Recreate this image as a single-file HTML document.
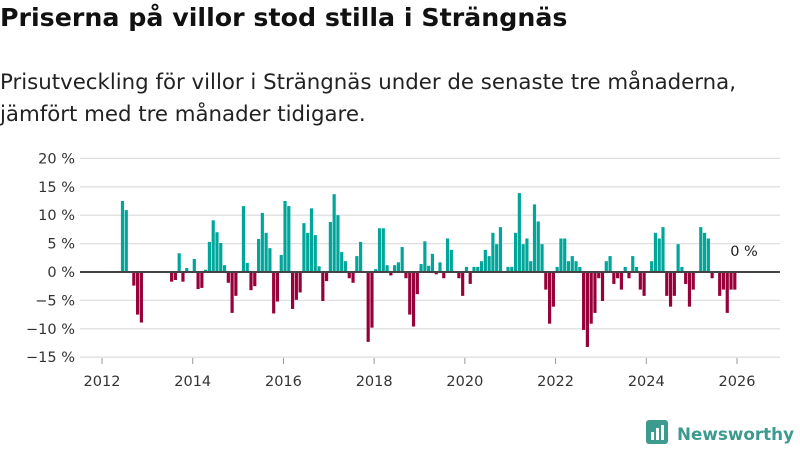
<!DOCTYPE html>
<html><head><meta charset="utf-8">
<style>
body{margin:0;width:800px;height:450px;background:#fff;font-family:"DejaVu Sans",sans-serif;overflow:hidden;position:relative}
h1{position:absolute;left:0;top:3px;margin:0;font-size:25.3px;font-weight:bold;color:#111;white-space:nowrap}
.sub{position:absolute;left:0;top:67px;margin:0;font-size:21.3px;line-height:32px;color:#222;white-space:nowrap}
svg{position:absolute;left:0;top:0}
</style></head><body>
<h1>Priserna på villor stod stilla i Strängnäs</h1>
<p class="sub">Prisutveckling för villor i Strängnäs under de senaste tre månaderna,<br>jämfört med tre månader tidigare.</p>
<svg id="chart" width="800" height="450"></svg>
<script>
const startYear = 2012;
const startMonth = 6;
const values = [12.5,10.9,0,-2.4,-7.5,-8.9,0,0,0,0,0,0,0,-1.7,-1.4,3.3,-1.7,0.7,0,2.3,-3,-2.8,0.4,5.3,9.1,7,5.1,1.2,-1.9,-7.2,-4.2,0,11.6,1.6,-3.2,-2.5,5.8,10.4,6.9,4.2,-7.3,-5.2,3,12.5,11.6,-6.5,-4.9,-3.6,8.6,6.9,11.2,6.5,1,-5.1,-1.6,8.8,13.7,10,3.5,1.9,-1.1,-1.9,2.8,5.3,0,-12.3,-9.8,0.5,7.7,7.7,1.2,-0.6,1.2,1.7,4.4,-1.1,-7.5,-9.6,-3.9,1.4,5.4,1.1,3.2,-0.4,1.7,-1.1,5.9,3.9,0,-1.1,-4.2,0.9,-2.1,0.9,0.9,1.9,3.9,2.8,6.9,4.9,7.9,0,0.9,0.9,6.9,13.9,4.9,5.9,1.9,11.9,8.9,4.9,-3.1,-9.1,-6.1,0.9,5.9,5.9,1.9,2.8,1.9,0.9,-10.2,-13.2,-9.1,-7.2,-1.1,-5.1,1.9,2.8,-2.1,-1.1,-3.1,0.9,-1.1,2.8,0.9,-3.1,-4.2,0,1.9,6.9,5.9,7.9,-4.2,-6.1,-4.2,4.9,0.9,-2.1,-6.1,-3.1,0,7.9,6.9,5.9,-1.1,0,-4.2,-3.1,-7.2,-3.1,-3.1];
const yTicks = [20,15,10,5,0,-5,-10,-15];
const xTicks = [2012,2014,2016,2018,2020,2022,2024,2026];
const lastLabel = "0 %";

const NS="http://www.w3.org/2000/svg";
const svg=document.getElementById('chart');
const x0=102, x1=737, yr0=2012, yr1=2026;
function xScale(t){return x0+(t-yr0)*(x1-x0)/(yr1-yr0);}
function yScale(v){return 272-v*5.68;}
function mk(tag,attrs){const e=document.createElementNS(NS,tag);for(const k in attrs)e.setAttribute(k,attrs[k]);svg.appendChild(e);return e;}
yTicks.forEach(v=>{
  if(v!==0){const g=mk('line',{x1:80,x2:780,y1:yScale(v),y2:yScale(v),stroke:'#e0e0e0','stroke-width':1.3});
  
  }
  const t=mk('text',{x:75,y:yScale(v)+5,'text-anchor':'end','font-size':14.5,fill:'#333','font-family':'DejaVu Sans, sans-serif'});
  t.textContent=(v<0?'−'+(-v):v)+' %';
  
  
});
xTicks.forEach(yv=>{
  const t=mk('text',{x:xScale(yv),y:386,'text-anchor':'middle','font-size':14.5,fill:'#333','font-family':'DejaVu Sans, sans-serif'});
  t.textContent=yv;
  
  
  const tk=mk('line',{x1:xScale(yv),x2:xScale(yv),y1:358,y2:364,stroke:'#999','stroke-width':1});
  
  
});
values.forEach((v,i)=>{
  if(v===0)return;
  const m=startMonth-1+i;
  const t=startYear+m/12;
  const xa=xScale(t), w=(x1-x0)/(yr1-yr0)/12;
  const ya=yScale(Math.max(v,0)), yb=yScale(Math.min(v,0));
  const r=mk('rect',{x:xa,y:ya,width:w-0.6,height:yb-ya,fill:v>0?'#00a69a':'#98003a'});
  
  
});
const zl=mk('line',{x1:80,x2:780,y1:yScale(0),y2:yScale(0),stroke:'#444','stroke-width':2});


const ll=mk('text',{x:744,y:256,'text-anchor':'middle','font-size':14.5,fill:'#222','font-family':'DejaVu Sans, sans-serif'});
ll.textContent=lastLabel;


</script>
<svg width="800" height="450" style="pointer-events:none">
<rect x="646" y="420" width="22" height="24" rx="3" fill="#3d9a8f"/>
<rect x="651" y="432" width="3" height="8" fill="#fff"/><rect x="656" y="428" width="3" height="12" fill="#fff"/><rect x="661" y="425" width="3" height="15" fill="#fff"/>
<text x="677" y="440" font-size="17" font-weight="bold" fill="#3d9a8f" font-family="DejaVu Sans, sans-serif" textLength="117" lengthAdjust="spacingAndGlyphs">Newsworthy</text>
</svg>
</body></html>
